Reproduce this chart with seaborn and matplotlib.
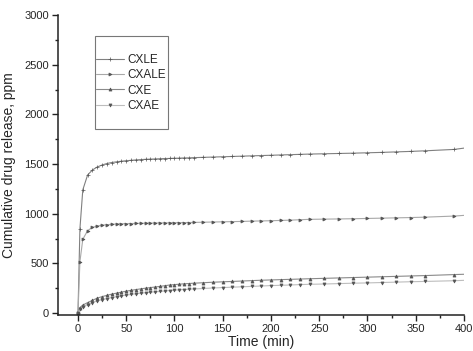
import matplotlib
matplotlib.use("Agg")
import matplotlib.pyplot as plt
import seaborn as sns
import pandas as pd
from matplotlib.ticker import MultipleLocator
from matplotlib.patches import Rectangle

time_min = [0, 2, 5, 10, 15, 20, 25, 30, 35, 40, 45, 50, 55, 60, 65, 70, 75, 80, 85, 90,
            95, 100, 105, 110, 115, 120, 130, 140, 150, 160, 170, 180, 190, 200, 210, 220,
            230, 240, 255, 270, 285, 300, 315, 330, 345, 360, 390, 400]

cxle = [0, 846, 1240, 1390, 1440, 1470, 1490, 1505, 1515, 1522, 1528, 1533, 1537, 1541, 1544,
        1547, 1549, 1551, 1553, 1555, 1556, 1558, 1559, 1561, 1562, 1564, 1567, 1570, 1573,
        1576, 1579, 1582, 1585, 1588, 1591, 1594, 1597, 1600, 1603, 1606, 1609, 1613, 1617,
        1622, 1627, 1633, 1647, 1660]

cxale = [0, 517, 742, 830, 862, 876, 884, 889, 893, 896, 898, 900, 901, 902, 903, 904, 905,
         906, 907, 907, 908, 909, 910, 910, 911, 912, 914, 916, 918, 920, 922, 925, 927, 929,
         932, 935, 939, 943, 945, 947, 949, 952, 955, 958, 961, 965, 976, 983]

cxe = [0, 55, 80, 105, 128, 150, 165, 178, 190, 200, 210, 220, 228, 236, 243, 250, 256, 262,
       268, 275, 282, 286, 290, 294, 297, 300, 305, 310, 314, 318, 322, 326, 330, 333, 336,
       339, 342, 345, 349, 353, 357, 361, 365, 369, 373, 377, 387, 390]

cxae = [0, 40, 63, 85, 105, 122, 135, 145, 155, 164, 172, 180, 187, 193, 199, 204, 209, 213,
        217, 221, 226, 230, 233, 236, 239, 242, 247, 252, 256, 260, 264, 268, 272, 276, 279,
        282, 286, 289, 292, 296, 300, 303, 307, 311, 315, 318, 325, 329]

series_names = ["CXLE", "CXALE", "CXE", "CXAE"]
series_values = [cxle, cxale, cxe, cxae]

line_colors = ["#808080", "#a8a8a8", "#8a8a8a", "#bdbdbd"]
markers = ["+", ">", "^", "v"]

sns.set_style("ticks")
plt.rcParams["font.family"] = ["Liberation Sans", "DejaVu Sans"]

W, H = 473, 351
fig = plt.figure(figsize=(W / 100, H / 100), dpi=100)
L, R, T, B = 58, 464, 15, 315
ax = fig.add_axes([L / W, 1 - B / H, (R - L) / W, (B - T) / H])

for name, vals, col, mk in zip(series_names, series_values, line_colors, markers):
    df = pd.DataFrame({"t": time_min, "v": vals})
    sns.lineplot(data=df, x="t", y="v", ax=ax, color=col, lw=0.8, marker=mk,
                 markersize=2.2, markeredgewidth=0.5, markerfacecolor="#555555",
                 markeredgecolor="#555555", markevery=slice(0, len(vals) - 1),
                 label=name, legend=False)

ax.set_xlim(-20.7, 400)
ax.set_ylim(-20, 3000)
ax.xaxis.set_major_locator(MultipleLocator(50))
ax.xaxis.set_minor_locator(MultipleLocator(25))
ax.yaxis.set_major_locator(MultipleLocator(500))
ax.yaxis.set_minor_locator(MultipleLocator(250))
ax.tick_params(which="major", length=4, width=1, labelsize=8, color="#222222", pad=2.5)
ax.tick_params(which="minor", length=2.5, width=1, color="#222222")
for s in ["left", "bottom"]:
    ax.spines[s].set_linewidth(1.1)
    ax.spines[s].set_color("#222222")
sns.despine(ax=ax)

ax.set_xlabel("Time (min)", fontsize=10, labelpad=1)
ax.set_ylabel("Cumulative drug release, ppm", fontsize=10, labelpad=6)

def ax_x(px):
    return (px - L) / (R - L)

def ax_y(py):
    return (B - py) / (B - T)

ax.add_patch(Rectangle((ax_x(95), ax_y(129)), ax_x(168) - ax_x(95), ax_y(36) - ax_y(129),
                       transform=ax.transAxes, fill=False, edgecolor="#777777",
                       linewidth=0.8, zorder=5))

leg = ax.legend(loc="upper left", bbox_to_anchor=(ax_x(96), ax_y(54)), fontsize=8.5,
                frameon=False, borderpad=0, handlelength=2.4, handletextpad=0.25,
                labelspacing=0.28, borderaxespad=0)

fig.savefig("out.png", dpi=100)
